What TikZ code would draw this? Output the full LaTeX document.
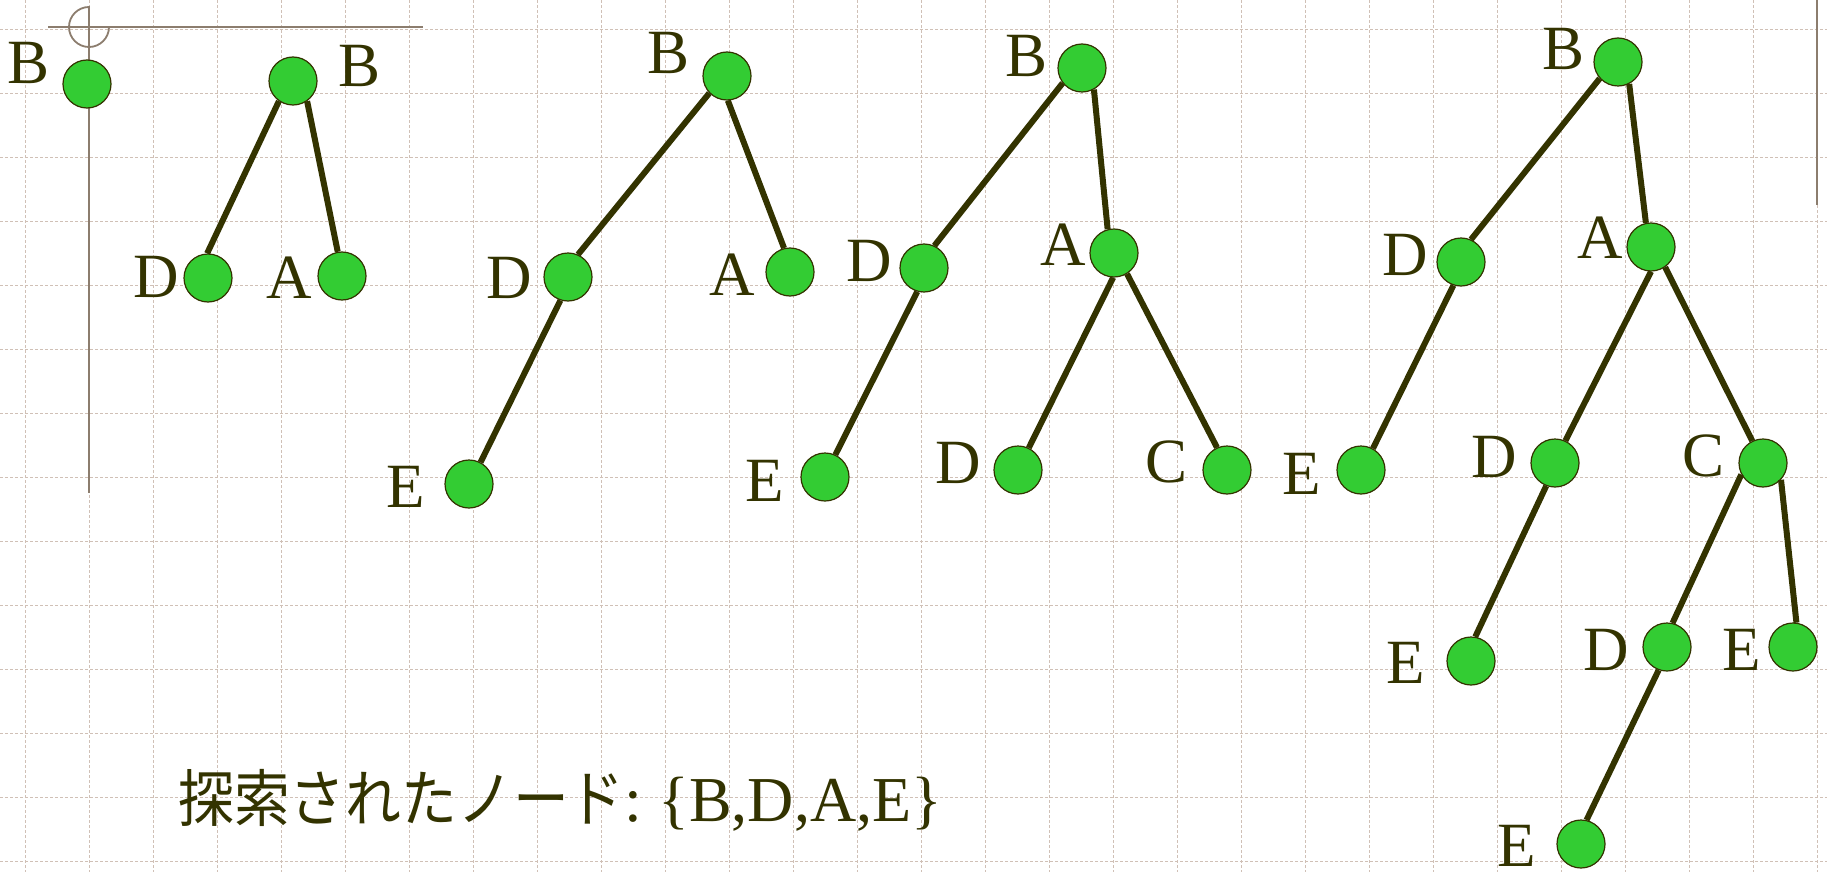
\documentclass[tikz,border=0pt]{standalone}
\usepackage{fontspec}
\setmainfont{Liberation Serif}
\newfontfamily\jpfont[FakeStretch=0.9]{Noto Sans CJK JP}
\usetikzlibrary{positioning}

\definecolor{treeline}{RGB}{51,51,0}
\definecolor{nodegreen}{RGB}{51,204,51}
\definecolor{gridtan}{RGB}{208,192,182}
\definecolor{guidegray}{RGB}{140,125,110}

\begin{document}
\begin{tikzpicture}[x=1pt, y=1pt,
  every node/.style={text=treeline, font=\fontsize{63}{63}\selectfont, inner sep=0pt},
  vert/.style={circle, draw=treeline, fill=nodegreen, line width=1.2pt,
    minimum size=48pt},
  branch/.style={draw=treeline, line width=6pt},
  gridline/.style={gridtan, line width=0.9pt, dash pattern=on 3pt off 2pt},
  guide/.style={guidegray, line width=1.8pt}]
  \fill[white] (0,0) rectangle (1827,-872);
  \useasboundingbox (0,0) rectangle (1827,-872);
  % grid paper
  \foreach \gx in {0,...,28}
    \draw[gridline] (25+64*\gx,0) -- (25+64*\gx,-872);
  \foreach \gy in {0,...,13}
    \draw[gridline] (0,-29-64*\gy) -- (1827,-29-64*\gy);
  \draw[guide] (48,-27) -- (423,-27);
  \draw[guide] (89,-6) -- (89,-493);
  \draw[guide] (89,-7) arc[start angle=90, end angle=360, radius=20];
  \draw[guide] (1817,0) -- (1817,-205);

  % step 1
  \node[vert] (b1) at (87,-84) {};
  \node (b1l) at (29,-63) {B};

  % step 2
  \node[vert] (b2) at (293,-81) {};
  \node[vert] (d2) at (208,-278) {};
  \node[vert] (a2) at (342,-276) {};
  \node (b2l) at (360,-66) {B};
  \node (d2l) at (156,-277) {D};
  \node (a2l) at (289,-278) {A};
  \draw[branch] (b2.235) -- (d2.92);
  \draw[branch] (b2.305) -- (a2.100);

  % step 3
  \node[vert] (b3) at (727,-76) {};
  \node[vert] (d3) at (568,-277) {};
  \node[vert] (a3) at (790,-272) {};
  \node[vert] (e3) at (469,-484) {};
  \node (b3l) at (669,-53) {B};
  \node (d3l) at (509,-278) {D};
  \node (a3l) at (732,-275) {A};
  \node (e3l) at (406,-487) {E};
  \draw[branch] (b3.224) -- (d3.66);
  \draw[branch] (b3.272) -- (a3.104);
  \draw[branch] (d3.252) -- (e3.62);

  % step 4
  \node[vert] (b4) at (1082,-68) {};
  \node[vert] (d4) at (924,-268) {};
  \node[vert] (a4) at (1114,-253) {};
  \node[vert] (e4) at (825,-477) {};
  \node[vert] (d4a) at (1018,-470) {};
  \node[vert] (c4) at (1227,-470) {};
  \node (b4l) at (1026,-56) {B};
  \node (d4l) at (869,-261) {D};
  \node (a4l) at (1063,-245) {A};
  \node (e4l) at (765,-481) {E};
  \node (d4al) at (958,-463) {D};
  \node (c4l) at (1166,-462) {C};
  \draw[branch] (b4.218) -- (d4.65);
  \draw[branch] (b4.299) -- (a4.105);
  \draw[branch] (d4.254) -- (e4.65);
  \draw[branch] (a4.268) -- (d4a.64);
  \draw[branch] (a4.302) -- (c4.114);

  % step 5
  \node[vert] (b5) at (1618,-62) {};
  \node[vert] (d5) at (1461,-262) {};
  \node[vert] (a5) at (1651,-247) {};
  \node[vert] (e5) at (1361,-470) {};
  \node[vert] (d5a) at (1555,-463) {};
  \node[vert] (c5) at (1763,-463) {};
  \node[vert] (e5a) at (1471,-661) {};
  \node[vert] (d5b) at (1667,-647) {};
  \node[vert] (e5b) at (1793,-647) {};
  \node[vert] (e5c) at (1581,-844) {};
  \node (b5l) at (1563,-49) {B};
  \node (d5l) at (1405,-255) {D};
  \node (a5l) at (1600,-238) {A};
  \node (e5l) at (1302,-474) {E};
  \node (d5al) at (1494,-457) {D};
  \node (c5l) at (1703,-456) {C};
  \node (e5al) at (1406,-663) {E};
  \node (d5bl) at (1606,-650) {D};
  \node (e5bl) at (1742,-650) {E};
  \node (e5cl) at (1517,-846) {E};
  \draw[branch] (b5.222) -- (d5.66);
  \draw[branch] (b5.297) -- (a5.102);
  \draw[branch] (d5.252) -- (e5.61);
  \draw[branch] (a5.270) -- (d5a.65);
  \draw[branch] (a5.305) -- (c5.116);
  \draw[branch] (d5a.249) -- (e5a.80);
  \draw[branch] (c5.208) -- (d5b.77);
  \draw[branch] (c5.317) -- (e5b.82);
  \draw[branch] (d5b.250) -- (e5c.77);

  \node[anchor=base west, font=\fontsize{64}{64}\selectfont] (found) at (178,-821)
    {{\jpfont\fontsize{62}{62}\selectfont 探索されたノード}:\ \{B,D,A,E\}};
\end{tikzpicture}
\end{document}
